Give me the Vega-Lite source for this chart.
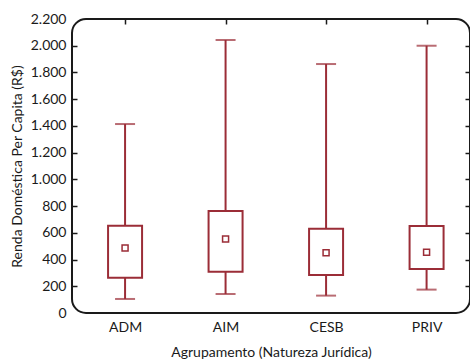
{
  "$schema": "https://vega.github.io/schema/vega-lite/v6.json",
  "width": 398,
  "height": 294,
  "autosize": {"type": "none"},
  "padding": {"left": 72, "top": 19, "right": 0, "bottom": 46},
  "background": "white",
  "config": {
    "font": "Lato",
    "view": {"stroke": "#1a1a1a", "strokeWidth": 2, "cornerRadius": 14},
    "axis": {
      "labelFont": "Lato",
      "titleFont": "Lato",
      "labelFontSize": 14,
      "titleFontSize": 14,
      "titleFontWeight": "normal",
      "labelColor": "#1a1a1a",
      "titleColor": "#1a1a1a",
      "tickColor": "#1a1a1a",
      "tickWidth": 1.5,
      "grid": false,
      "domain": false
    }
  },
  "data": {
    "values": [
      {"group": "ADM", "low": 105, "q1": 264, "q3": 653, "high": 1414, "mean": 486},
      {"group": "AIM", "low": 142, "q1": 309, "q3": 763, "high": 2043, "mean": 554},
      {"group": "CESB", "low": 130, "q1": 284, "q3": 631, "high": 1863, "mean": 451},
      {"group": "PRIV", "low": 175, "q1": 329, "q3": 651, "high": 2000, "mean": 454}
    ]
  },
  "layer": [
    {
      "mark": {"type": "rule", "color": "#9b2d37", "strokeWidth": 2},
      "encoding": {
        "x": {
          "field": "group", "type": "nominal",
          "scale": {"type": "point", "padding": 0.48, "align": 0.55},
          "axis": {"orient": "bottom", "ticks": false, "labelAngle": 0, "labelPadding": 7, "titlePadding": 11, "title": "Agrupamento (Natureza Jurídica)"}
        },
        "y": {
          "field": "low", "type": "quantitative",
          "scale": {"domain": [0, 2200], "nice": false, "zero": true},
          "axis": {
            "orient": "left",
            "values": [0, 200, 400, 600, 800, 1000, 1200, 1400, 1600, 1800, 2000, 2200],
            "labelExpr": "replace(format(datum.value, ','), ',', '.')",
            "ticks": false,
            "labelPadding": 6,
            "titlePadding": 6,
            "title": "Renda Doméstica Per Capita (R$)"
          }
        },
        "y2": {"field": "high"}
      }
    },
    {
      "mark": {"type": "tick", "color": "#9b2d37", "size": 20, "thickness": 2},
      "encoding": {
        "x": {"field": "group", "type": "nominal", "axis": {"orient": "top", "labels": false, "tickSize": 5, "offset": -5, "title": null}},
        "y": {"field": "low", "type": "quantitative", "axis": null}
      }
    },
    {
      "mark": {"type": "tick", "color": "#9b2d37", "size": 20, "thickness": 2},
      "encoding": {
        "x": {"field": "group", "type": "nominal", "axis": null},
        "y": {"field": "high", "type": "quantitative",
          "axis": {"orient": "right", "labels": false, "tickSize": 5, "offset": -5, "title": null,
                   "values": [200, 400, 600, 800, 1000, 1200, 1400, 1600, 1800, 2000]}}
      }
    },
    {
      "mark": {"type": "bar", "fill": "white", "stroke": "#9b2d37", "strokeWidth": 2, "size": 34},
      "encoding": {
        "x": {"field": "group", "type": "nominal", "axis": null},
        "y": {"field": "q1", "type": "quantitative",
          "axis": {"orient": "left", "labels": false, "tickSize": 5, "offset": -5, "title": null,
                   "values": [200, 400, 600, 800, 1000, 1200, 1400, 1600, 1800, 2000]}},
        "y2": {"field": "q3"}
      }
    },
    {
      "mark": {"type": "point", "shape": "square", "filled": false, "color": "#9b2d37", "strokeWidth": 1.5, "size": 36, "opacity": 1},
      "encoding": {
        "x": {"field": "group", "type": "nominal", "axis": null},
        "y": {"field": "mean", "type": "quantitative", "axis": null}
      }
    }
  ],
  "resolve": {"axis": {"x": "independent", "y": "independent"}}
}
